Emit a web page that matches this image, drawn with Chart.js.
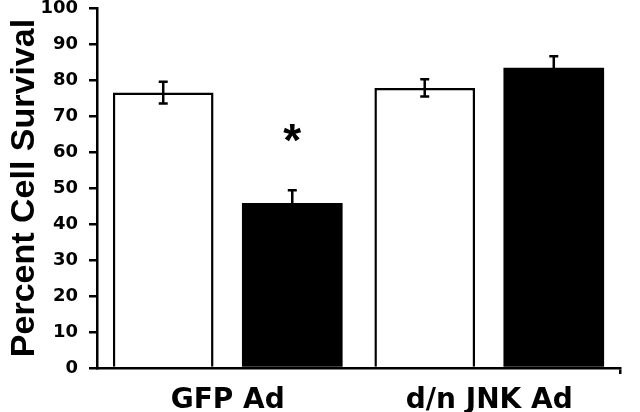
<!DOCTYPE html>
<html lang="en">
<head>
    <meta charset="UTF-8">
    <title>Percent Cell Survival</title>
    <script src="https://cdn.jsdelivr.net/npm/chart.js"></script>
    <style>
        * {
            margin: 0;
            padding: 0;
            box-sizing: border-box;
        }

        body {
            background: white;
        }

        .chart-box {
            width: 640px;
            height: 412px;
        }
    </style>
</head>
<body>
    <div class="chart-box">
        <canvas id="survival-chart" width="640" height="412"></canvas>
    </div>

    <script>
        // values
        const categories = ['GFP Ad', 'd/n JNK Ad'];
        const controlValues = [76.5, 77.8];
        const controlErrors = [3.0, 2.4];
        const treatedValues = [45.8, 83.4];
        const treatedErrors = [3.6, 3.2];
        const treatedMarks = ['*', ''];
        const yTicks = [0, 10, 20, 30, 40, 50, 60, 70, 80, 90, 100];

        const errorLists = [controlErrors, treatedErrors];

        // error bars + significance star
        const errorBarPlugin = {
            id: 'errorBars',
            afterDatasetsDraw(chart) {
                const ctx = chart.ctx;
                const y = chart.scales.y;
                ctx.save();
                ctx.strokeStyle = '#000';
                ctx.lineWidth = 2.5;
                chart.data.datasets.forEach((ds, di) => {
                    const meta = chart.getDatasetMeta(di);
                    meta.data.forEach((bar, i) => {
                        const v = ds.data[i];
                        const e = errorLists[di][i];
                        const top = y.getPixelForValue(v + e);
                        const bottom = y.getPixelForValue(v - e);
                        const x = bar.x;
                        ctx.beginPath();
                        ctx.moveTo(x, top);
                        ctx.lineTo(x, bottom);
                        ctx.moveTo(x - 4.5, top);
                        ctx.lineTo(x + 4.5, top);
                        ctx.moveTo(x - 4.5, bottom);
                        ctx.lineTo(x + 4.5, bottom);
                        ctx.stroke();

                        if (di === 1 && treatedMarks[i]) {
                            ctx.fillStyle = '#000';
                            ctx.font = 'bold 46px "Liberation Sans", Arial, sans-serif';
                            ctx.textAlign = 'center';
                            ctx.textBaseline = 'alphabetic';
                            ctx.fillText(treatedMarks[i], x, top - 55 + 21);
                        }
                    });
                });
                ctx.restore();
            }
        };

        const ctx = document.getElementById('survival-chart').getContext('2d');

        new Chart(ctx, {
            type: 'bar',
            data: {
                labels: categories,
                datasets: [{
                    label: 'Control',
                    data: controlValues,
                    backgroundColor: '#ffffff',
                    borderColor: '#000000',
                    borderWidth: 2.5,
                    barPercentage: 0.78,
                    categoryPercentage: 0.987
                }, {
                    label: 'Treated',
                    data: treatedValues,
                    backgroundColor: '#000000',
                    borderColor: '#000000',
                    borderWidth: 0,
                    barPercentage: 0.78,
                    categoryPercentage: 0.987
                }]
            },
            options: {
                responsive: false,
                animation: false,
                layout: {
                    padding: { top: 8, right: 20, left: 0, bottom: 0 }
                },
                plugins: {
                    legend: { display: false },
                    tooltip: { enabled: false }
                },
                scales: {
                    x: {
                        border: { display: true, color: '#000', width: 2.5 },
                        grid: {
                            offset: true,
                            drawOnChartArea: false,
                            tickLength: 6,
                            lineWidth: 2.5,
                            color: (c) => c.index === undefined ? '#000' : 'rgba(0,0,0,0)'
                        },
                        ticks: {
                            color: '#000',
                            padding: 10,
                            font: { family: '"DejaVu Sans", sans-serif', size: 28, weight: 'bold' }
                        },
                        afterFit(scale) {
                            scale.height = 44;
                        }
                    },
                    y: {
                        min: 0,
                        max: 100,
                        afterBuildTicks(scale) {
                            scale.ticks = yTicks.map(v => ({ value: v }));
                        },
                        border: { display: true, color: '#000', width: 2.5 },
                        grid: {
                            drawOnChartArea: false,
                            tickLength: 8,
                            lineWidth: 2.5,
                            color: '#000'
                        },
                        ticks: {
                            color: '#000',
                            padding: 11,
                            font: { family: '"DejaVu Sans", sans-serif', size: 18, weight: 'bold' }
                        },
                        title: {
                            display: true,
                            text: 'Percent Cell Survival',
                            color: '#000',
                            padding: { top: 4, bottom: 0 },
                            font: { family: '"Liberation Sans", Arial, sans-serif', size: 34, weight: 'bold' }
                        },
                        afterFit(scale) {
                            scale.width = 97;
                            scale.paddingTop = 0;
                            scale.paddingBottom = 0;
                        }
                    }
                }
            },
            plugins: [errorBarPlugin]
        });
    </script>
</body>
</html>
